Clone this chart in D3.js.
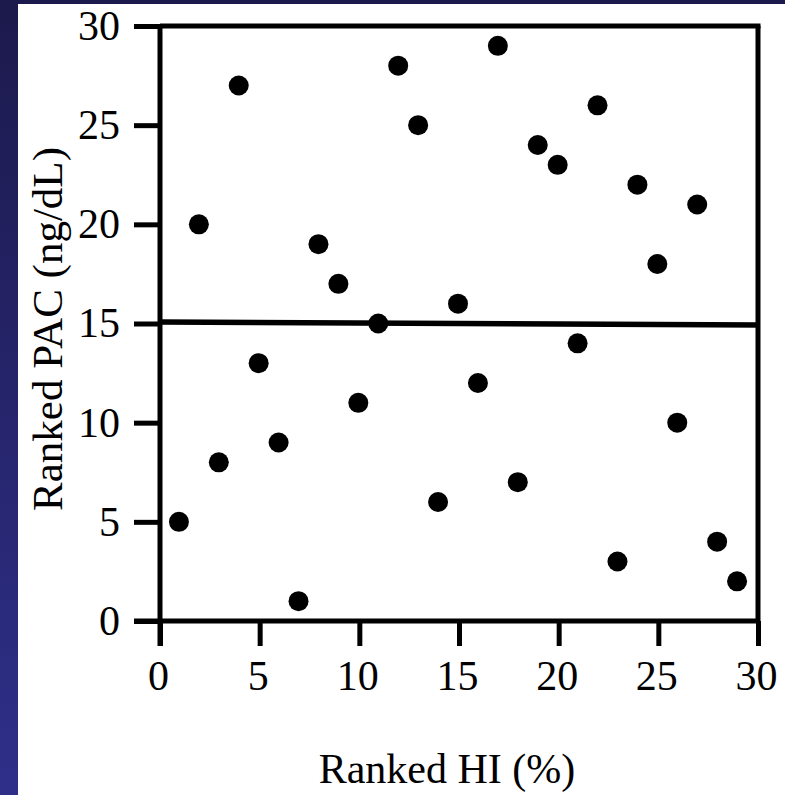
<!DOCTYPE html>
<html><head><meta charset="utf-8">
<script src="https://cdn.jsdelivr.net/npm/d3@7"></script>
<style>html,body{margin:0;padding:0;background:#fff;}svg{display:block;}</style>
</head><body>
<script>
const xValues = [1,2,3,4,5,6,7,8,9,10,11,12,13,14,15,16,17,18,19,20,21,22,23,24,25,26,27,28,29];
const yValues = [5,20,8,27,13,9,1,19,17,11,15,28,25,6,16,12,29,7,24,23,14,26,3,22,18,10,21,4,2];
const xTicks = [0,5,10,15,20,25,30];
const yTicks = [0,5,10,15,20,25,30];
const fitLine = [[0,15.07],[30,14.92]];

const W = 785, H = 795;
const svg = d3.select("body").append("svg").attr("width", W).attr("height", H);
const defs = svg.append("defs");
const g1 = defs.append("linearGradient").attr("id","side").attr("x1",0).attr("y1",0).attr("x2",0).attr("y2",1);
g1.append("stop").attr("offset","0").attr("stop-color","#1c1a4c");
g1.append("stop").attr("offset","1").attr("stop-color","#2f2f8a");
svg.append("rect").attr("x",0).attr("y",0).attr("width",18).attr("height",H).attr("fill","url(#side)");
svg.append("rect").attr("x",0).attr("y",0).attr("width",W).attr("height",4).attr("fill","#1c1a4c");

const x = d3.scaleLinear().domain([0,30]).range([160,758]);
const y = d3.scaleLinear().domain([0,30]).range([621,26]);
const font = "'Liberation Serif','Times New Roman',Times,serif";
const sw = 5;

// frame top and right
svg.append("line").attr("x1",x(0)).attr("x2",x(30)+sw/2).attr("y1",y(30)).attr("y2",y(30)).attr("stroke","#000").attr("stroke-width",sw);
svg.append("line").attr("x1",x(30)).attr("x2",x(30)).attr("y1",y(30)).attr("y2",y(0)).attr("stroke","#000").attr("stroke-width",sw);

const xAxis = svg.append("g").attr("transform",`translate(0,${y(0)})`)
  .call(d3.axisBottom(x).tickValues(xTicks).tickSize(25).tickPadding(14).tickSizeOuter(0));
const yAxis = svg.append("g").attr("transform",`translate(${x(0)},0)`)
  .call(d3.axisLeft(y).tickValues(yTicks).tickSize(26).tickPadding(14).tickSizeOuter(0));
[xAxis,yAxis].forEach(a=>{
  a.select(".domain").attr("stroke","#000").attr("stroke-width",sw);
  a.selectAll(".tick line").attr("stroke","#000").attr("stroke-width",sw);
  a.selectAll(".tick text").attr("fill","#000").style("font-family",font).style("font-size","42px");
});
xAxis.selectAll(".tick text").attr("dx","-2");
xAxis.select(".domain").attr("d",`M${x(0)-26},0H${x(30)}`);
yAxis.select(".domain").attr("d",`M0,${y(0)+25}V${y(30)}`);

svg.append("g").selectAll("circle").data(xValues.map((v,i)=>[v,yValues[i]])).join("circle")
  .attr("cx",d=>x(d[0])-1).attr("cy",d=>y(d[1])).attr("r",10).attr("fill","#000");

svg.append("line").attr("x1",x(fitLine[0][0])).attr("y1",y(fitLine[0][1]))
  .attr("x2",x(fitLine[1][0])+2).attr("y2",y(fitLine[1][1])).attr("stroke","#000").attr("stroke-width",5.5);

svg.append("text").attr("x",447).attr("y",783).attr("text-anchor","middle")
  .style("font-family",font).style("font-size","42px").text("Ranked HI (%)");
svg.append("text").attr("transform","translate(62,329) rotate(-90)").attr("text-anchor","middle")
  .style("font-family",font).style("font-size","43px").text("Ranked PAC (ng/dL)");
</script>
</body></html>
